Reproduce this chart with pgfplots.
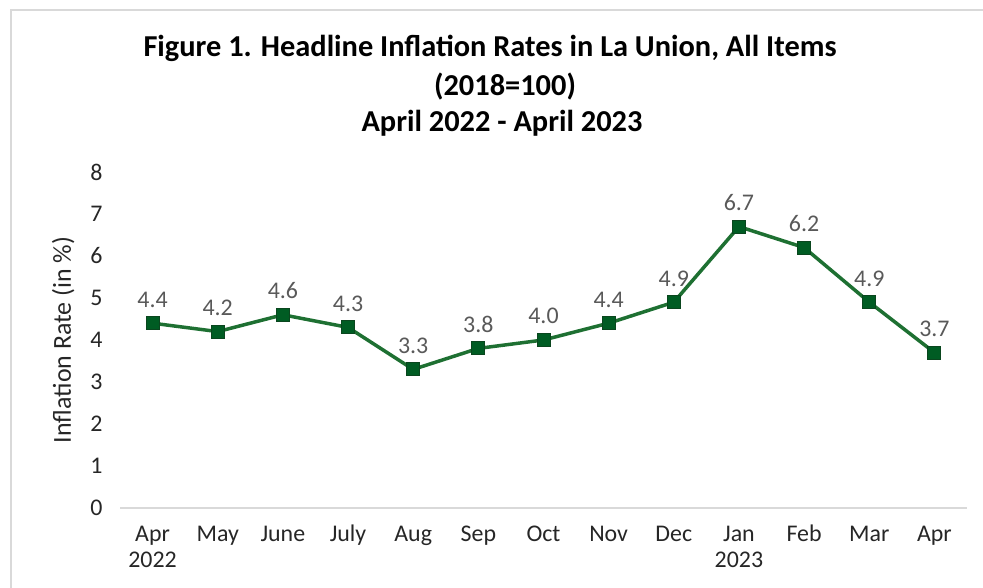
\documentclass[border=0pt]{standalone}
\usepackage{pgfplots}
\pgfplotsset{compat=1.18}
\usepackage{fontspec}
\setmainfont{Carlito}
\definecolor{linegreen}{RGB}{30,112,50}
\definecolor{markgreen}{RGB}{0,92,35}
\definecolor{markedge}{RGB}{10,70,30}
\definecolor{labgray}{RGB}{89,89,89}
\definecolor{basegray}{RGB}{217,217,217}
\begin{document}
\begin{tikzpicture}[x=1bp,y=1bp]
\path[use as bounding box] (0,0) rectangle (983,588);
\draw[color=basegray,line width=1.2bp] (11,0) -- (11,578) -- (983,578);
\node[font=\fontsize{30.5}{34}\selectfont\bfseries,align=center] at (490,540) {Figure 1. Headline Inflation Rates in La Union, All Items};
\node[font=\fontsize{30.5}{34}\selectfont\bfseries,align=center] at (505,501) {(2018=100)};
\node[font=\fontsize{30.5}{34}\selectfont\bfseries,align=center] at (502,465) {April 2022 - April 2023};
\begin{axis}[
  at={(120bp,80bp)}, anchor=south west,
  scale only axis, width=847bp, height=336bp,
  xmin=-0.5, xmax=12.5, ymin=0, ymax=8,
  axis line style={draw=none},
  xtick={0,...,12},
  xticklabels={\strut Apr\\2022,\strut May,\strut June,\strut July,\strut Aug,\strut Sep,\strut Oct,\strut Nov,\strut Dec,\strut Jan\\2023,\strut Feb,\strut Mar,\strut Apr},
  xticklabel style={align=center, anchor=north, yshift=-12bp, font=\fontsize{24}{26}\selectfont, text=black!85},
  ytick={0,...,8},
  yticklabel style={font=\fontsize{24}{26}\selectfont, text=black!85, xshift=-14bp},
  major tick length=0pt,
  /pgf/number format/assume math mode=true,
  ylabel={Inflation Rate (in \%)},
  ylabel style={font=\fontsize{26}{28}\selectfont, text=black!85, yshift=9bp},
  clip=false,
  nodes near coords,
  every node near coord/.append style={font=\fontsize{24}{26}\selectfont, text=labgray, yshift=12bp},
  nodes near coords={\pgfmathprintnumber[fixed,fixed zerofill,precision=1]{\pgfplotspointmeta}},
]
\draw[basegray, line width=1.2bp] (axis cs:-0.5,0) -- (axis cs:12.5,0);
\addplot[linegreen, line width=3.5bp, mark=square*, mark size=6.5bp,
  mark options={fill=markgreen, draw=markedge, line width=1bp}]
  coordinates {(0,4.4) (1,4.2) (2,4.6) (3,4.3) (4,3.3) (5,3.8) (6,4.0) (7,4.4) (8,4.9) (9,6.7) (10,6.2) (11,4.9) (12,3.7)};
\end{axis}
\end{tikzpicture}
\end{document}
